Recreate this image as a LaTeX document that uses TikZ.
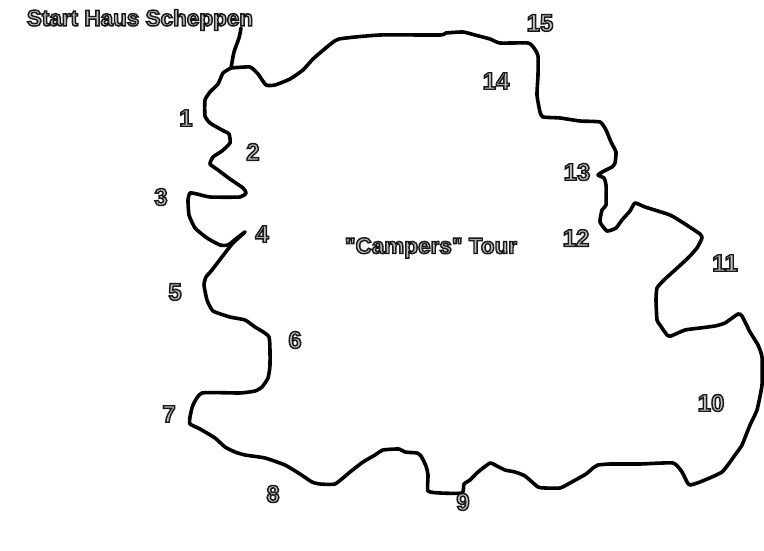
\documentclass[tikz,border=0pt]{standalone}
\usepackage{fontspec}
\setmainfont[Ligatures=TeXOff]{Liberation Sans}
\newcommand{\lbl}[1]{\special{pdf:code q 2 Tr 1.45 w 0.1 G 0.75 g}\textbf{#1}\special{pdf:code Q}}
\tikzset{
  route/.style={draw=black,line width=3.6pt,line join=round,line cap=round},
  num/.style={inner sep=0pt,font=\fontsize{24}{24}\selectfont},
  title/.style={inner sep=0pt,font=\fontsize{22.5}{22.5}\selectfont}
}
\begin{document}
\begin{tikzpicture}[x=1pt,y=-1pt]
\useasboundingbox (0,0) rectangle (764,551);
\fill[white] (0,0) rectangle (764,551);
\draw[route] plot[smooth,tension=0.3] coordinates {
(241,28)(239,38)(234,52)(231,68)};
\draw[route] plot[smooth,tension=0.3] coordinates {
(231,68)(250,67)(258,74)(266,85)(275,85)(290,79)(303,70)(313,59)(327,47)(339,39)(380,35)
(440,35)(446,33)(463,32)(475,35)(490,39)(500,43)(528,43)(534,48)(538,56)(538,75)(537,95)(540,112)(543,117)
(560,118)(580,121)(600,122)(606,130)(611,142)(616,152)(615,163)(612,167)(604,171)(598,175)(604,178)(606,185)
(606,205)(602,210)(600,222)(607,231)(616,228)(622,220)(630,211)(635,203)(645,207)(670,215)(685,224)(700,234)(702,238)
(697,248)(688,258)(675,270)(664,280)(657,288)(656,300)(657,320)(660,325)(667,335)(671,336)(685,330)(700,328)(715,326)(725,323)
(738,314)(742,316)(750,332)(758,345)(762,357)(762,385)(757,410)(750,425)(742,445)(735,455)(722,472)(700,482)(690,485)(687,482)
(682,472)(673,463)(640,464)(610,464)(598,465)(593,468)(586,474)(570,483)(560,488)(545,488)(538,487)(525,476)(515,472)(505,470)
(495,465)(490,463)(478,472)(470,480)(464,484)(462,493)(440,493)(428,491)(428,475)(426,466)(421,456)(417,453)(405,452)(399,449)
(383,450)(375,455)(363,462)(350,472)(335,484)(320,484)(312,482)(300,474)(285,465)(265,458)(245,455)(235,452)(225,447)(215,438)
(200,429)(190,424)(190,417)(193,405)(202,393)(240,393)(255,391)(262,387)(268,378)(270,365)(269,337)(255,327)(245,320)(230,317)
(213,311)(207,300)(204,285)(206,277)(212,270)(225,253)(233,243)(245,232)};
\draw[route] plot[smooth,tension=0.3] coordinates {
(245,232)(237,238)(228,245)(220,245)(207,238)(195,228)(189,215)(188,200)(190,193)(197,194)(210,197)(240,197)(246,193)(243,188)
(230,179)(218,170)(210,164)(213,157)(222,151)(230,143)(229,134)(222,130)(210,123)(205,116)(205,100)(210,92)(218,84)(223,73)(231,68)};
\node[title] (start) at (140,20) {\lbl{Start Haus Scheppen}};
\node[title] (tour) at (431,248) {\lbl{"Campers" Tour}};
\node[num] (n1) at (186,118) {\lbl{1}};
\node[num] (n2) at (253,152) {\lbl{2}};
\node[num] (n3) at (161,197) {\lbl{3}};
\node[num] (n4) at (262,234) {\lbl{4}};
\node[num] (n5) at (175,292) {\lbl{5}};
\node[num] (n6) at (295,340) {\lbl{6}};
\node[num] (n7) at (169,414) {\lbl{7}};
\node[num] (n8) at (273,494) {\lbl{8}};
\node[num] (n9) at (463,502) {\lbl{9}};
\node[num] (n10) at (711,403) {\lbl{10}};
\node[num] (n11) at (725,263) {\lbl{11}};
\node[num] (n12) at (576,238) {\lbl{12}};
\node[num] (n13) at (577,172) {\lbl{13}};
\node[num] (n14) at (496,81) {\lbl{14}};
\node[num] (n15) at (540,23) {\lbl{15}};
\end{tikzpicture}
\end{document}
